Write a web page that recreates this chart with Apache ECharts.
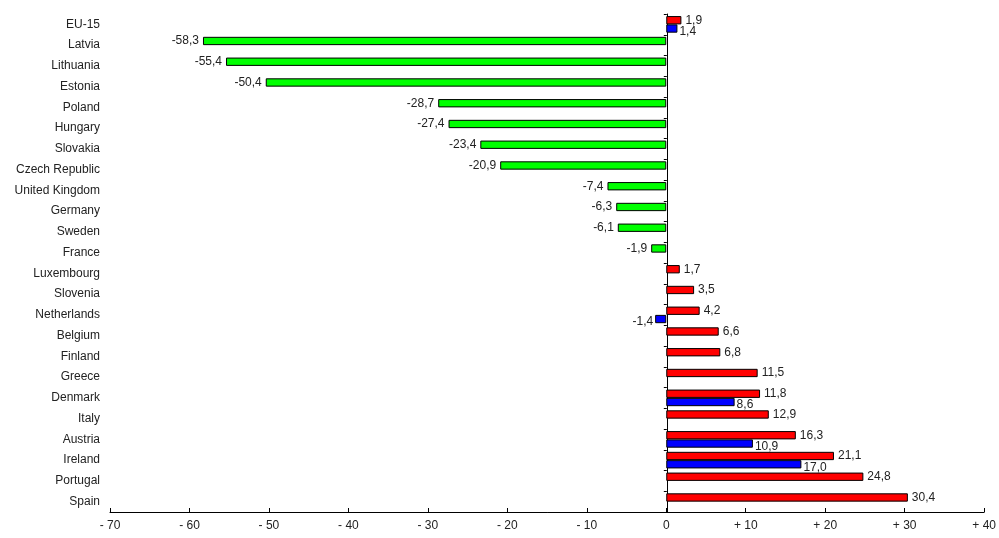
<!DOCTYPE html>
<html>
<head>
<meta charset="utf-8">
<script src="https://cdn.jsdelivr.net/npm/echarts@6/dist/echarts.min.js"></script>
<style>
  html, body { margin: 0; padding: 0; background: #fff; }
  #chart { width: 999px; height: 538px; }
</style>
</head>
<body>
<div id="chart"></div>
<script>
// Countries, top to bottom
const categories = [
  'EU-15', 'Latvia', 'Lithuania', 'Estonia', 'Poland', 'Hungary', 'Slovakia',
  'Czech Republic', 'United Kingdom', 'Germany', 'Sweden', 'France',
  'Luxembourg', 'Slovenia', 'Netherlands', 'Belgium', 'Finland', 'Greece',
  'Denmark', 'Italy', 'Austria', 'Ireland', 'Portugal', 'Spain'
];

// Main series: change in %
const mainValues = [
  1.9, -58.3, -55.4, -50.4, -28.7, -27.4, -23.4,
  -20.9, -7.4, -6.3, -6.1, -1.9,
  1.7, 3.5, 4.2, 6.6, 6.8, 11.5,
  11.8, 12.9, 16.3, 21.1, 24.8, 30.4
];

// Secondary series (only some countries)
const secondValues = [
  1.4, null, null, null, null, null, null,
  null, null, null, null, null,
  null, null, -1.4, null, null, null,
  8.6, null, 10.9, 17.0, null, null
];

// Value axis range and step
const xTicks = { min: -70, max: 40, step: 10 };

const fmtNum = v => v.toFixed(1).replace('.', ',');
const fmtTick = v => v < 0 ? '- ' + Math.abs(v) : (v > 0 ? '+ ' + v : '0');

const textFont = { fontFamily: 'Liberation Sans, Arial, sans-serif', fontSize: 12, color: '#222' };

const gridLeft = 110, gridRight = 14, width = 999;
// pixel distance from the grid's left edge to the zero value
const zeroOffset = (0 - xTicks.min) / (xTicks.max - xTicks.min) * (width - gridLeft - gridRight);

const chart = echarts.init(document.getElementById('chart'), null, { renderer: 'canvas' });

chart.setOption({
  animation: false,
  backgroundColor: '#fff',
  grid: { left: gridLeft, right: gridRight, top: 14, bottom: 26, containLabel: false },
  xAxis: {
    type: 'value',
    min: xTicks.min,
    max: xTicks.max,
    interval: xTicks.step,
    splitLine: { show: false },
    axisLine: { show: true, onZero: false, lineStyle: { color: '#000', width: 1 } },
    axisTick: { show: true, inside: true, length: 4, lineStyle: { color: '#000' } },
    axisLabel: Object.assign({ formatter: fmtTick, margin: 8 }, textFont)
  },
  yAxis: [
    {
      type: 'category',
      data: categories,
      inverse: true,
      position: 'left',
      axisLine: { show: false },
      axisTick: { show: false },
      axisLabel: Object.assign({ margin: 10 }, textFont)
    },
    {
      // vertical line at zero with boundary ticks
      type: 'category',
      data: categories,
      inverse: true,
      position: 'left',
      offset: -zeroOffset,
      axisLine: { show: true, onZero: false, lineStyle: { color: '#000', width: 1 } },
      axisTick: { show: true, length: 3, lineStyle: { color: '#000' } },
      axisLabel: { show: false }
    }
  ],
  series: [
    {
      type: 'bar',
      yAxisIndex: 0,
      barGap: '0%',
      barCategoryGap: '20%',
      data: mainValues.map(v => ({
        value: v,
        itemStyle: { color: v < 0 ? '#00ff00' : '#ff0000', borderColor: '#000', borderWidth: 1 },
        label: { position: v < 0 ? 'left' : 'right' }
      })),
      label: Object.assign({ show: true, distance: 4, formatter: p => fmtNum(p.value) }, textFont)
    },
    {
      type: 'bar',
      yAxisIndex: 0,
      barGap: '0%',
      barCategoryGap: '20%',
      data: secondValues.map(v => v === null ? null : ({
        value: v,
        label: { position: v < 0 ? 'left' : 'right', offset: [0, 3] }
      })),
      itemStyle: { color: '#0000ff', borderColor: '#000', borderWidth: 1 },
      label: Object.assign({ show: true, distance: 2, formatter: p => p.value == null ? '' : fmtNum(p.value) }, textFont)
    }
  ]
});
</script>
</body>
</html>
